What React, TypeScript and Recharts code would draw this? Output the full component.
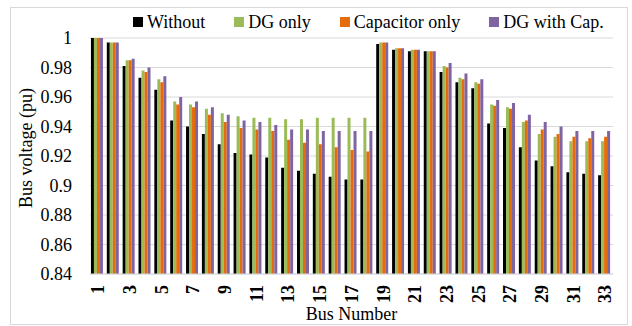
import React from 'react';
import { BarChart, Bar, XAxis, YAxis, CartesianGrid, Legend } from 'recharts';

const buses = Array.from({ length: 33 }, (_, i) => String(i + 1));

const without = [
    1.0, 0.997, 0.981, 0.973, 0.965, 0.944, 0.94, 0.935, 0.928, 0.922, 0.921,
    0.919, 0.912, 0.91, 0.908, 0.906, 0.904, 0.904, 0.996, 0.992, 0.991, 0.991,
    0.977, 0.97, 0.966, 0.942, 0.939, 0.926, 0.917, 0.913, 0.909, 0.908, 0.907,
];
const dgOnly = [
    1.0, 0.997, 0.985, 0.978, 0.972, 0.957, 0.955, 0.952, 0.949, 0.947, 0.946,
    0.946, 0.945, 0.945, 0.946, 0.946, 0.946, 0.946, 0.997, 0.993, 0.992, 0.991,
    0.981, 0.973, 0.97, 0.955, 0.953, 0.943, 0.935, 0.933, 0.93, 0.93, 0.93,
];
const capOnly = [
    1.0, 0.997, 0.985, 0.977, 0.97, 0.955, 0.953, 0.948, 0.943, 0.939, 0.938,
    0.937, 0.931, 0.929, 0.928, 0.926, 0.924, 0.923, 0.997, 0.993, 0.992, 0.991,
    0.98, 0.972, 0.969, 0.954, 0.952, 0.944, 0.938, 0.935, 0.933, 0.932, 0.933,
];
const dgWithCap = [
    1.0, 0.997, 0.986, 0.98, 0.974, 0.96, 0.957, 0.953, 0.948, 0.944, 0.943,
    0.941, 0.938, 0.938, 0.937, 0.937, 0.937, 0.937, 0.997, 0.993, 0.992, 0.991,
    0.983, 0.976, 0.972, 0.958, 0.956, 0.948, 0.943, 0.94, 0.937, 0.937, 0.937,
];

const seriesNames = ['Without', 'DG only', 'Capacitor only', 'DG with Cap.'];
const yTicks = [0.84, 0.86, 0.88, 0.9, 0.92, 0.94, 0.96, 0.98, 1];

const data = buses.map((bus, i) => ({
    bus,
    without: without[i],
    dgOnly: dgOnly[i],
    capOnly: capOnly[i],
    dgWithCap: dgWithCap[i],
}));

const FONT = '"Liberation Serif", "Times New Roman", serif';

const BusTick = (props: any) => {
    const { x, y, payload } = props;
    return (
        <g transform={`translate(${x},${y})`}>
            <text
                transform="rotate(-90)"
                x={-11}
                dy="0.35em"
                textAnchor="end"
                fontFamily={FONT}
                fontSize={18}
                fontWeight="bold"
                fill="#000"
            >
                {payload.value}
            </text>
        </g>
    );
};

const renderLegend = (props: any) => {
    const payload = [...props.payload].sort(
        (a: any, b: any) => seriesNames.indexOf(a.value) - seriesNames.indexOf(b.value)
    );
    return (
        <div style={{ display: 'flex', alignItems: 'center', fontFamily: FONT, fontSize: 18, lineHeight: '18px', color: '#000', whiteSpace: 'nowrap' }}>
            {payload.map((entry: any, i: number) => (
                <span key={entry.value} style={{ display: 'flex', alignItems: 'center', marginRight: i < payload.length - 1 ? 29 : 0 }}>
                    <span style={{ width: 10, height: 10, background: entry.color, marginRight: 4, display: 'inline-block' }} />
                    {entry.value}
                </span>
            ))}
        </div>
    );
};

export default function App() {
    return (
        <div style={{ position: 'absolute', left: 10, top: 7, width: 616, height: 316, border: '1px solid #d9d9d9', background: '#fff', overflow: 'visible' }}>
            <BarChart
                width={616}
                height={318}
                data={data}
                margin={{ top: 30, right: 14, bottom: 0, left: 0 }}
                barCategoryGap="6%"
                barGap={0}
            >
                <CartesianGrid vertical={false} stroke="#d9d9d9" />
                <XAxis
                    dataKey="bus"
                    height={52}
                    interval={1}
                    tickLine={false}
                    tickSize={0}
                    tickMargin={0}
                    axisLine={{ stroke: '#d9d9d9' }}
                    tick={<BusTick />}
                    label={{
                        content: (p: any) => (
                            <text x={p.viewBox.x + p.viewBox.width / 2} y={312} textAnchor="middle" fontFamily={FONT} fontSize={18} fill="#000">
                                Bus Number
                            </text>
                        ),
                    }}
                />
                <YAxis
                    width={79}
                    domain={[0.84, 1]}
                    ticks={yTicks}
                    allowDataOverflow
                    axisLine={false}
                    tickLine={false}
                    tickSize={0}
                    tickMargin={18}
                    tick={{ fontFamily: FONT, fontSize: 18, fill: '#000' }}
                    tickFormatter={(v: number) => String(v)}
                    label={{
                        content: () => (
                            <text transform="translate(21,140) rotate(-90)" textAnchor="middle" fontFamily={FONT} fontSize={18} fill="#000">
                                Bus voltage (pu)
                            </text>
                        ),
                    }}
                />
                <Legend
                    layout="horizontal"
                    verticalAlign="middle"
                    align="center"
                    wrapperStyle={{ top: 5, left: 122, width: 'auto', height: 18 }}
                    content={renderLegend}
                />
                <Bar dataKey="without" name="Without" fill="#000000" isAnimationActive={false} />
                <Bar dataKey="dgOnly" name="DG only" fill="#9bbb59" isAnimationActive={false} />
                <Bar dataKey="capOnly" name="Capacitor only" fill="#e46c0a" isAnimationActive={false} />
                <Bar dataKey="dgWithCap" name="DG with Cap." fill="#8064a2" isAnimationActive={false} />
            </BarChart>
        </div>
    );
}
